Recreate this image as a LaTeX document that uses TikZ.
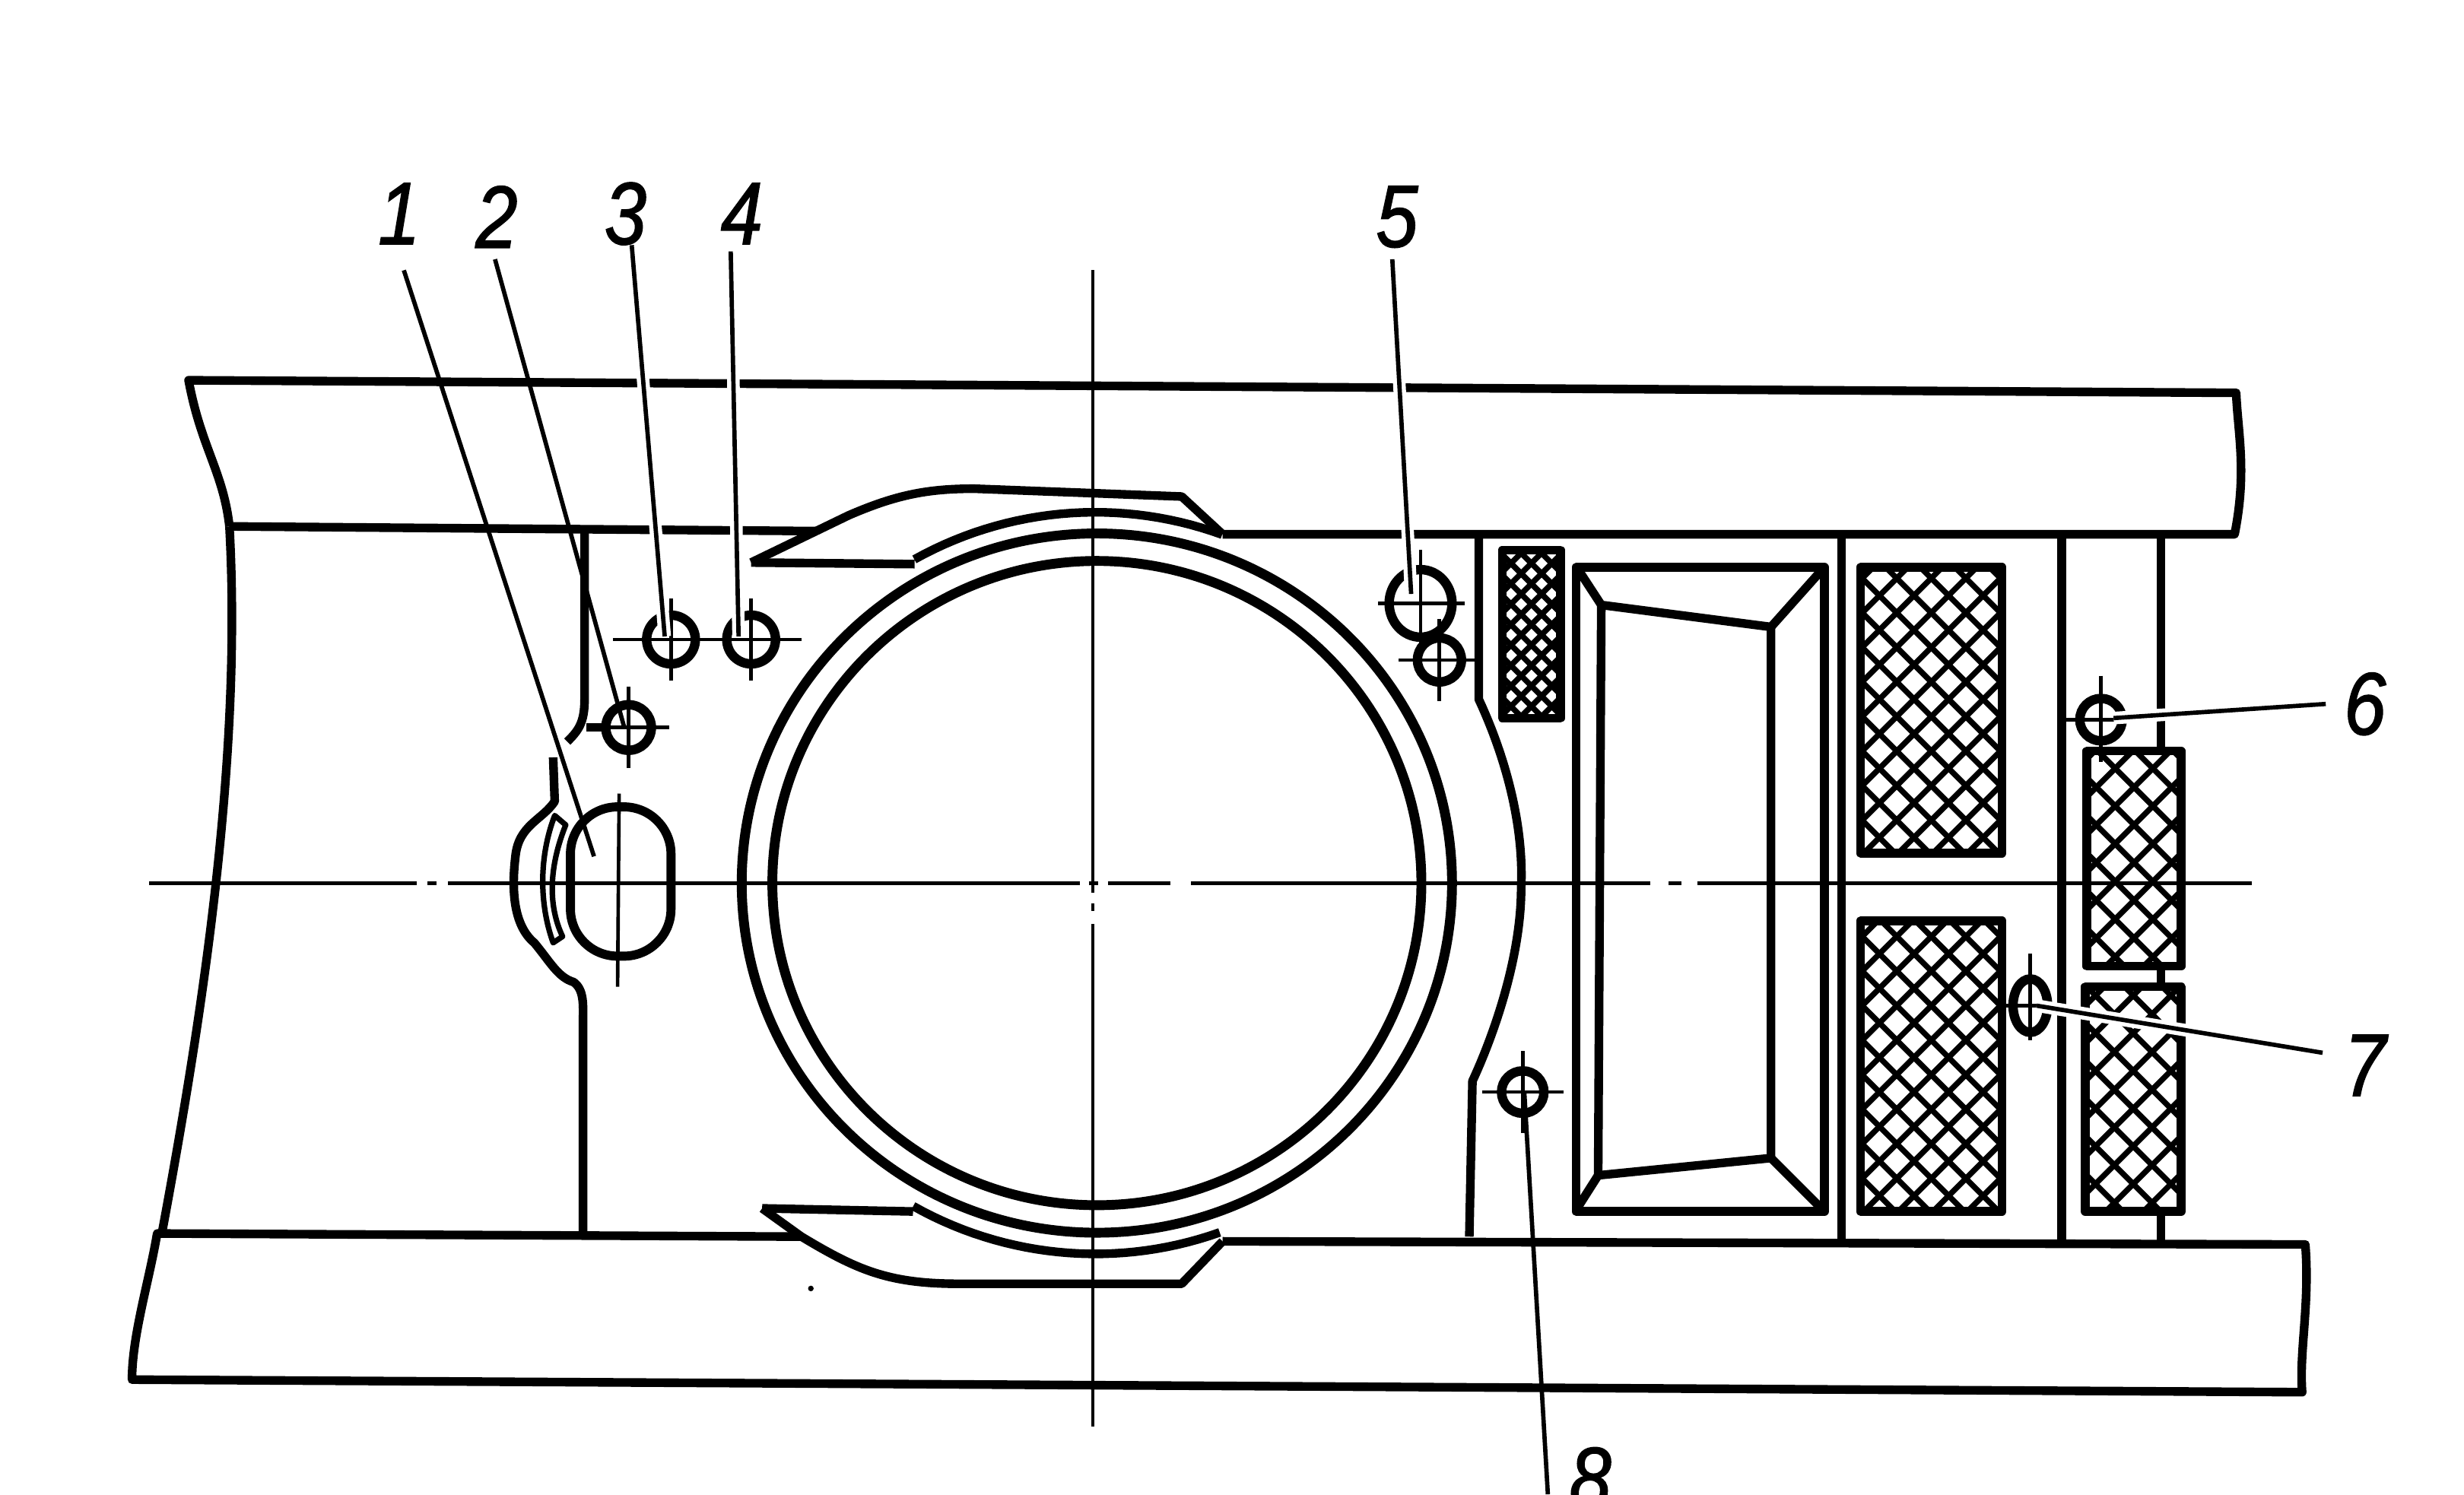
\documentclass[tikz,border=0pt]{standalone}
\usepackage{fontspec}
\setmainfont{Liberation Sans}
\newfontfamily\numfont[FakeStretch=0.85, FakeBold=1.4]{Liberation Sans}
\usetikzlibrary{shapes.geometric}
\tikzset{
    wall/.style={line width=1.1mm, line join=round},
    rim/.style={line width=1.25mm},
    axis/.style={line width=0.45mm},
    leader/.style={line width=0.55mm},
    halo/.style={preaction={draw, white, line width=1.6mm}},
    hatchline/.style={line width=0.72mm},
    hole/.style={draw, circle, line width=1.2mm, inner sep=0pt},
    num/.style={font=\fontsize{32}{32}\selectfont\numfont\itshape, inner sep=1mm}
}
% crossed box: x0,y0,x1,y1,spacing
\newcommand{\hatchrect}[5]{%
  \begin{scope}
    \clip (#1,#2) rectangle (#3,#4);
    \pgfmathsetmacro{\hh}{#4-#2}
    \pgfmathtruncatemacro{\nn}{(#3-#1+#4-#2)/#5+1}
    \foreach \k in {0,...,\nn} {
      \draw[hatchline] ({#1-\hh+\k*#5},#2) -- ++(\hh,\hh);
      \draw[hatchline] ({#3+\hh-\k*#5},#2) -- ++(-\hh,\hh);
    }
  \end{scope}
  \draw[wall] (#1,#2) rectangle (#3,#4);
}
\begin{document}
\begin{tikzpicture}[x=0.2mm, y=-0.2mm]
\useasboundingbox (0,0) rectangle (1568,951.4);

% beams
\draw[wall] (146,335) .. controls (142,300) and (128,285) .. (120,242) -- (1423,250) .. controls (1424,275) and (1430,300) .. (1422,340) -- (778,340);
\draw[wall] (146,335) -- (520,338);
\draw[wall] (146,335) .. controls (154,480) and (130,640) .. (103,785);
\draw[wall] (510,787) -- (100,785) .. controls (95,815) and (84,850) .. (84,878) -- (1465,886) .. controls (1463,860) and (1470,830) .. (1467,792) -- (778,790);

% rings
\coordinate (cc) at (698,562);
\draw[rim] (cc) circle[x radius=41.3mm, y radius=41mm];
\draw[rim] (cc) circle[x radius=45.2mm, y radius=44.5mm];

% upper and lower boss
\draw[wall] (478,358) -- (582,359) plot[domain=-119.2:-70, samples=30] ({697+236*cos(\x)},{562+236*sin(\x)});
\draw[wall] (478,358) -- (540,328) .. controls (570,315) and (590,311) .. (620,311) -- (752,316) -- (778,340);
\draw[wall] (485,769) -- (581,771) plot[domain=119.4:70.4, samples=30] ({697+236*cos(\x)},{562+236*sin(\x)});
\draw[wall] (485,769) -- (510,787) .. controls (545,808) and (565,817) .. (610,817) -- (752,817) -- (778,790);
\fill (516,820) circle[radius=1.8];

% left wall with the lug
\draw[wall] (372,338) -- (372,445) .. controls (372,460) and (368,465) .. (361,472);
\draw[wall] (373,463) -- (388,463);
\draw[wall] (352,482) -- (353,510) .. controls (345,522) and (330,525) .. (328,545) .. controls (325,570) and (328,590) .. (340,600) .. controls (350,612) and (355,622) .. (365,625) .. controls (372,630) and (371,640) .. (371,650) -- (371,785);
\draw[line width=0.7mm, line join=round] (353,519) -- (360,525) .. controls (350,550) and (348,575) .. (358,596) -- (352,600) .. controls (343,575) and (343,545) .. cycle;

% right walls
\draw[wall] (941,341) -- (941,445) .. controls (955,475) and (970,520) .. (968,565) .. controls (968,610) and (950,660) .. (937,688) -- (935,787);
\draw[wall] (1172,341) -- (1172,790);
\draw[wall] (1312,341) -- (1312,790);
\draw[wall] (1375,341) -- (1375,478);
\draw[wall] (1375,615) -- (1375,628);
\draw[wall] (1375,771) -- (1375,790);

% tapered frame
\draw[wall] (1003,361) rectangle (1161,771);
\draw[wall] (1004,362) -- (1019,385) -- (1127,399) -- (1160,362);
\draw[wall] (1019,385) -- (1017,748) -- (1127,737) -- (1127,399);
\draw[wall] (1017,748) -- (1003,770);
\draw[wall] (1127,737) -- (1160,770);

% crossed boxes
\hatchrect{956}{350}{993}{457}{13}
\hatchrect{1184}{361}{1274}{543}{22}
\hatchrect{1184}{586}{1274}{771}{22}
\hatchrect{1328}{478}{1388}{615}{24}
\hatchrect{1327}{628}{1388}{771}{24}

% centre lines
\foreach \a/\b in {95/265, 272/278, 285/687, 693/699, 705/745, 758/1050, 1062/1070, 1080/1433} {
  \draw[axis] (\a,562) -- (\b,562);
}
\foreach \a/\b in {172/568, 575/580, 588/908} {
  \draw[axis] (695.5,\a) -- (695.5,\b);
}

% holes
\foreach \n/\x/\y/\s/\a in {2/400/463/5.8/26, 3/427/407/6.2/26, 4/478/407/6.2/26, 5b/916/420/5.6/26, 8/969/695/5.4/26} {
  \node[hole, minimum size=\s mm] (h\n) at (\x,\y) {};
  \draw[axis] ({\x-\a},\y) -- ({\x+\a},\y);
  \draw[axis] (\x,{\y-\a}) -- (\x,{\y+\a});
}
\draw[axis] (390,407) -- (510,407);
\node[hole, minimum size=5.4mm] (h6) at (1337,458) {};
\draw[axis] (1312,458) -- (1349,458);
\draw[axis] (1337,430) -- (1337,485);
\node[hole, ellipse, minimum width=8mm, minimum height=8.6mm] (h5) at (904,384) {};
\draw[axis] (877,384) -- (932,384);
\draw[axis] (904,350) -- (904,418);
\node[hole, ellipse, minimum width=4.4mm, minimum height=6.8mm] (h7) at (1292,640) {};
\draw[axis] (1275,640) -- (1312,640);
\draw[axis] (1292,607) -- (1292,662);
\node[draw, line width=1.15mm, rectangle, rounded corners=6mm, minimum width=12.8mm, minimum height=19mm, inner sep=0pt] (h1) at (395,561) {};
\draw[axis] (394,505) -- (393,628);

% numbers
\node[num] (n1) at (254,136) {1};
\node[num] (n2) at (316,138) {2};
\node[num] (n3) at (398,136) {3};
\node[num] (n4) at (472,136) {4};
\node[num] (n5) at (889,138) {5};
\node[num] (n6) at (1505,448) {6};
\node[num] (n7) at (1505,678) {7};
\node[num] (n8) at (1012,941) {8};

\coordinate (e1) at (378,545);
\coordinate (e2) at (397,462);
\coordinate (e3) at (423,405);
\coordinate (e4) at (470,405);
\coordinate (e5) at (898,378);
\coordinate (e6) at (1345,457);
\coordinate (e7) at (1296,640);
\coordinate (e8) at (970,695);

\draw[leader] ([shift={(3,36)}]n1.center) -- (e1);
\draw[leader] ([shift={(-1,27)}]n2.center) -- (e2);
\draw[leader, halo] ([shift={(4,20)}]n3.center) -- (e3);
\draw[leader, halo] ([shift={(-7,24)}]n4.center) -- (e4);
\draw[leader, halo] ([shift={(-3,27)}]n5.center) -- (e5);
\draw[leader, halo] ([shift={(-25,0)}]n6.center) -- (e6);
\draw[leader, halo] ([shift={(-27,-8)}]n7.center) -- (e7);
\draw[leader] ([shift={(-27,10)}]n8.center) -- (e8);
\end{tikzpicture}
\end{document}
